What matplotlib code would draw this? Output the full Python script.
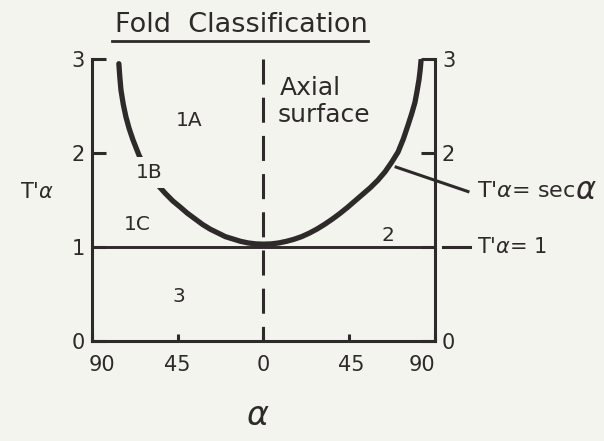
import matplotlib
matplotlib.use('Agg')
import matplotlib.pyplot as plt
from matplotlib.lines import Line2D
from matplotlib.transforms import ScaledTranslation

# Fold classification: thickness ratio T'alpha against limb dip alpha
ink = '#2e2a2a'
paper = '#f4f4ef'

# T'alpha = sec(alpha) curve, left and right limbs as drawn
alpha_left = [-75.9, -75.4, -74.8, -73.6, -72.2, -70.5, -68.5, -65.4, -63.0, -60.5,
              -58.0, -55.5, -51.5, -47.6, -44.0, -40.0, -36.0, -32.0, -28.0, -24.0,
              -20.0, -16.0, -12.0, -8.0, -4.0, 0.0]
t_left = [2.95, 2.81, 2.67, 2.52, 2.385, 2.26, 2.14, 1.98, 1.88, 1.79,
          1.73, 1.66, 1.57, 1.49, 1.43, 1.36, 1.30, 1.24, 1.19, 1.15,
          1.11, 1.085, 1.06, 1.043, 1.033, 1.03]
alpha_right = [0.0, 4.0, 8.0, 12.0, 16.0, 20.0, 24.0, 28.0, 32.0, 36.0, 40.0, 44.0,
               48.0, 52.0, 56.0, 60.0, 63.8, 67.2, 70.6, 73.4, 75.9, 77.8, 79.5,
               80.6, 81.6, 82.2, 82.7]
t_right = [1.03, 1.033, 1.043, 1.06, 1.082, 1.11, 1.147, 1.19, 1.24, 1.295, 1.355, 1.42,
           1.49, 1.56, 1.63, 1.71, 1.80, 1.90, 2.01, 2.15, 2.30, 2.42, 2.54,
           2.66, 2.78, 2.88, 2.99]

# class labels
classes = ['1A', '1B', '1C', '2', '3']
class_alpha = [-39.2, -60.2, -66.5, 65.4, -44.5]
class_t = [2.35, 1.79, 1.24, 1.12, 0.47]

x_ticks = [-90, -45, 0, 45, 90]
x_labels = ['90', '45', '0', '45', '90']
y_ticks = [0, 1, 2, 3]
y_labels = ['0', '1', '2', '3']

plt.rcParams['font.family'] = 'DejaVu Sans'
plt.rcParams['text.color'] = ink

fig = plt.figure(figsize=(6.04, 4.41), dpi=100, facecolor=paper)
ax = fig.add_axes([0.1523, 0.2268, 0.5679, 0.6394])
ax.set_facecolor(paper)
ax.set_xlim(-90, 90)
ax.set_ylim(0, 3)

for side in ['left', 'right', 'bottom']:
    ax.spines[side].set_linewidth(2.2)
    ax.spines[side].set_color(ink)
ax.spines['top'].set_visible(False)

# sec curve
ax.plot(alpha_left + alpha_right[1:], t_left + t_right[1:], color=ink, lw=3.8,
        solid_capstyle='round', solid_joinstyle='round', zorder=3)

# T'alpha = 1 line
ax.axhline(1, color=ink, lw=2.1, zorder=2)

# axial surface
ax.plot([0, 0], [3, 0], color=ink, lw=2.2, dashes=(8.2, 4.3), zorder=2)
ax.text(8.4, 2.69, 'Axial', fontsize=18, va='center', ha='left')
ax.text(7.6, 2.40, 'surface', fontsize=18, va='center', ha='left')

for name, a, t in zip(classes, class_alpha, class_t):
    ax.text(a, t, name, fontsize=14.5, ha='center', va='center', zorder=4,
            bbox=dict(boxstyle='square,pad=0.3', fc=paper, ec='none') if name == '1B' else None)

# leaders on the right
ax.plot([69.6, 107.3], [1.85, 1.59], color=ink, lw=2.2, clip_on=False)
sec_txt = ax.text(112, 1.60, r"T'$\alpha$= sec", fontsize=16, va='center', ha='left')
ax.annotate(r'$\alpha$', xy=(1, 0.5), xycoords=sec_txt, fontsize=22,
            va='center', ha='left')
ax.plot([94.2, 108.3], [1.0, 1.0], color=ink, lw=2.2, clip_on=False)
ax.text(112, 1.0, r"T'$\alpha$= 1", fontsize=15, va='center', ha='left')

# axes labels
ax.text(-118.8, 1.59, r"T'$\alpha$", fontsize=15, va='center', ha='center')
ax.text(-3, -0.79, r'$\alpha$', fontsize=24, va='center', ha='center')

ax.set_xticks(x_ticks, x_labels)
ax.tick_params(axis='x', direction='in', length=5, width=2.2, color=ink,
               labelsize=15, labelcolor=ink, pad=10)
shifts = [10, 0, 0, 2, -13]
for lab, dx in zip(ax.get_xticklabels(), shifts):
    lab.set_transform(lab.get_transform() + ScaledTranslation(dx / 100, 0, fig.dpi_scale_trans))

ax.set_yticks(y_ticks, y_labels)
ax.tick_params(axis='y', direction='in', length=10, width=2.2, color=ink,
               left=True, right=True, labelleft=True, labelright=True,
               labelsize=15, labelcolor=ink, pad=5)
ax.yaxis.get_major_ticks()[1].label2.set_visible(False)

fig.text(241 / 604, 1 - 25 / 441, 'Fold  Classification', fontsize=19.5,
         ha='center', va='center')
fig.add_artist(Line2D([112 / 604, 368 / 604], [1 - 41 / 441] * 2, lw=2, color=ink))

fig.savefig('out.png', dpi=100, facecolor=paper)
